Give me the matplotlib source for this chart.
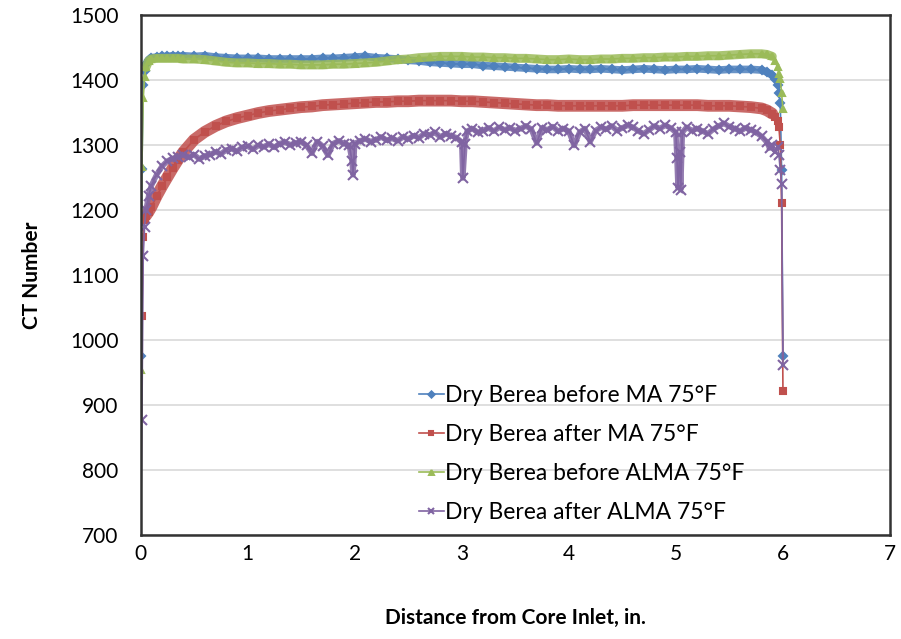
import numpy as np
import matplotlib
matplotlib.use("Agg")
import matplotlib.pyplot as plt

plt.rcParams["font.family"] = ["Lato", "DejaVu Sans"]

# depth along the core (in.) shared by the three smooth scans
depth = [0.0, 0.0125, 0.025, 0.0375, 0.05, 0.075,
         0.1, 0.15, 0.2, 0.25, 0.3, 0.35, 0.4, 0.5, 0.6, 0.7, 0.8, 0.9, 1.0,
         1.1, 1.2, 1.3, 1.4, 1.5, 1.6, 1.7, 1.8, 1.9, 2.0,
         2.1, 2.2, 2.3, 2.4, 2.5, 2.6, 2.7, 2.8, 2.9, 3.0,
         3.1, 3.2, 3.3, 3.4, 3.5, 3.6, 3.7, 3.8, 3.9, 4.0,
         4.1, 4.2, 4.3, 4.4, 4.5, 4.6, 4.7, 4.8, 4.9, 5.0,
         5.1, 5.2, 5.3, 5.4, 5.5, 5.6, 5.7, 5.8,
         5.85, 5.9, 5.925, 5.95, 5.9625, 5.975, 5.9875, 6.0]

before_ma = [976, 1264, 1393, 1415, 1425, 1432,
             1435, 1436, 1437, 1437, 1438, 1437, 1438, 1437, 1438, 1436, 1435, 1434, 1434,
             1434, 1433, 1433, 1433, 1433, 1433, 1434, 1434, 1435, 1436,
             1437, 1435, 1434, 1433, 1431, 1430, 1428, 1427, 1426, 1425,
             1425, 1423, 1422, 1421, 1420, 1419, 1418, 1417, 1417, 1418,
             1417, 1417, 1418, 1417, 1416, 1417, 1418, 1417, 1416, 1417,
             1417, 1418, 1417, 1416, 1417, 1417, 1417, 1416,
             1413, 1408, 1402, 1393, 1380, 1365, 1262, 976]

after_ma = [650, 1038, 1159, 1185, 1192, 1198,
            1205, 1222, 1237, 1251, 1265, 1278, 1290, 1309, 1321, 1330, 1337, 1342, 1346,
            1350, 1353, 1355, 1357, 1359, 1360, 1362, 1363, 1364, 1365,
            1366, 1367, 1367, 1368, 1368, 1369, 1369, 1369, 1369, 1368,
            1368, 1367, 1366, 1365, 1364, 1363, 1362, 1362, 1361, 1361,
            1361, 1361, 1361, 1361, 1361, 1362, 1362, 1362, 1362, 1362,
            1362, 1362, 1361, 1361, 1361, 1360, 1359, 1357,
            1354, 1349, 1344, 1337, 1328, 1301, 1212, 923]

before_alma = [955, 1267, 1373, 1405, 1420, 1430,
               1433, 1434, 1434, 1434, 1434, 1434, 1433, 1433, 1432, 1430, 1428, 1427, 1427,
               1426, 1426, 1425, 1425, 1424, 1424, 1424, 1425, 1425, 1426,
               1427, 1428, 1430, 1432, 1433, 1435, 1436, 1437, 1437, 1437,
               1436, 1436, 1435, 1435, 1434, 1434, 1433, 1432, 1432, 1433,
               1432, 1432, 1433, 1433, 1434, 1434, 1435, 1435, 1436, 1436,
               1437, 1437, 1438, 1438, 1439, 1440, 1441, 1441,
               1440, 1437, 1430, 1420, 1410, 1402, 1380, 1356]

# noisier scan with a few bad slices, so it gets its own depths
depth_alma = [0.0, 0.0125, 0.025, 0.0375, 0.05, 0.075,
              0.1, 0.15, 0.2, 0.25, 0.3, 0.35, 0.4, 0.45, 0.5, 0.55, 0.6, 0.65, 0.7, 0.75,
              0.8, 0.85, 0.9, 0.95, 1.0, 1.05, 1.1, 1.15, 1.2, 1.25, 1.3, 1.35, 1.4, 1.45,
              1.5, 1.55, 1.6, 1.65, 1.7, 1.75, 1.8, 1.85, 1.9, 1.95, 1.975, 1.985, 2.0,
              2.05, 2.1, 2.15, 2.2, 2.25, 2.3, 2.35, 2.4, 2.45, 2.5, 2.55, 2.6, 2.65, 2.7,
              2.75, 2.8, 2.85, 2.9, 2.95, 3.0, 3.01, 3.03,
              3.05, 3.1, 3.15, 3.2, 3.25, 3.3, 3.35, 3.4, 3.45, 3.5, 3.55, 3.6, 3.65, 3.7,
              3.75, 3.8, 3.85, 3.9, 3.95, 4.0, 4.05, 4.1, 4.15, 4.2, 4.25, 4.3, 4.35, 4.4,
              4.45, 4.5, 4.55, 4.6, 4.65, 4.7, 4.75, 4.8, 4.85, 4.9, 4.95, 5.0,
              5.01, 5.02, 5.035, 5.045, 5.06,
              5.1, 5.15, 5.2, 5.25, 5.3, 5.35, 5.4, 5.45, 5.5, 5.55, 5.6, 5.65, 5.7,
              5.75, 5.8, 5.85, 5.875, 5.9, 5.925, 5.95, 5.9625, 5.975, 5.9875, 6.0]

after_alma = [680, 877, 1130, 1175, 1200, 1222,
              1238, 1255, 1268, 1276, 1280, 1283, 1285, 1282, 1286, 1279, 1284, 1286, 1290, 1287,
              1293, 1295, 1291, 1297, 1299, 1294, 1300, 1298, 1302, 1297, 1303, 1305, 1301, 1304,
              1306, 1300, 1288, 1306, 1299, 1285, 1303, 1307, 1303, 1300, 1276, 1255, 1303,
              1307, 1310, 1306, 1309, 1313, 1308, 1311, 1307, 1313, 1310, 1315, 1312, 1318, 1316,
              1320, 1313, 1318, 1315, 1312, 1305, 1250, 1303,
              1322, 1326, 1320, 1323, 1327, 1322, 1328, 1324, 1327, 1323, 1326, 1330, 1325, 1304,
              1327, 1324, 1329, 1322, 1326, 1322, 1300, 1320, 1326, 1306, 1323, 1328, 1325, 1330,
              1323, 1327, 1331, 1328, 1322, 1318, 1324, 1330, 1326, 1331, 1327, 1320,
              1280, 1235, 1290, 1232, 1320,
              1328, 1323, 1326, 1322, 1318, 1325, 1330, 1334, 1329, 1326, 1322, 1327, 1324,
              1320, 1314, 1305, 1296, 1300, 1290, 1298, 1285, 1262, 1241, 963]

labels = ["Dry Berea before MA 75°F", "Dry Berea after MA 75°F",
          "Dry Berea before ALMA 75°F", "Dry Berea after ALMA 75°F"]

series = [
    (depth, before_ma, "#4F81BD", "D", 4.5, 5.5),
    (depth, after_ma, "#C0504D", "s", 5, 8.5),
    (depth, before_alma, "#9BBB59", "^", 5, 6.5),
    (depth_alma, after_alma, "#8064A2", "x", 7, 4),
]

fig = plt.figure(figsize=(9.01, 6.39), dpi=100)
ax = fig.add_axes([0.156, 0.162, 0.8318, 0.8138])

for (xs, ys, col, mk, ms, band), lab in zip(series, labels):
    xs = np.asarray(xs)
    ys = np.asarray(ys)
    inner = (xs >= 0.05) & (xs <= 5.9)
    # dense overlapping markers in the original read as a thick band
    ax.plot(xs[inner], ys[inner], color=col, lw=band, alpha=0.85,
            solid_capstyle="round", solid_joinstyle="round")
    ax.plot(xs, ys, color=col, lw=1.2, marker=mk, ms=ms, mew=1.5,
            label=lab)

ax.set_xlim(0, 7)
ax.set_ylim(700, 1500)
ax.set_xticks(range(0, 8))
ax.set_yticks(range(700, 1501, 100))
ax.yaxis.grid(True, color="#D9D9D9", lw=1.2)
ax.set_axisbelow(True)
ax.tick_params(length=0, labelsize=15)
ax.tick_params(axis="y", pad=16)
ax.tick_params(axis="x", pad=6)
for s in ax.spines.values():
    s.set_color("#333333")
    s.set_linewidth(1.8)

ax.set_ylabel("CT Number", fontsize=15, fontweight="bold", labelpad=20)
ax.set_xlabel("Distance from Core Inlet, in.", fontsize=15, fontweight="bold", labelpad=32)

leg = ax.legend(loc="upper left", bbox_to_anchor=(0.452, 0.415), bbox_transform=fig.transFigure,
                frameon=False, fontsize=16.5, handlelength=1.1, handletextpad=0.05,
                labelspacing=0.78, borderpad=0, markerscale=0.7)

fig.savefig("out.png", dpi=100)
